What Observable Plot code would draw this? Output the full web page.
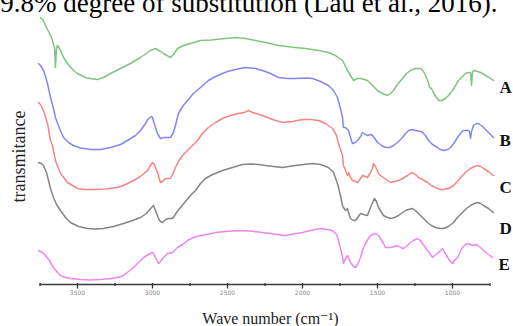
<!DOCTYPE html>
<html><head><meta charset="utf-8">
<script src="https://cdn.jsdelivr.net/npm/d3@7"></script>
<script src="https://cdn.jsdelivr.net/npm/@observablehq/plot@0.6"></script>
<style>
html,body{margin:0;padding:0;background:#fff;}
#chart{width:513px;height:326px;overflow:hidden;position:relative;}
</style></head><body><div id="chart"></div>
<script>
const seriesNames = ["A","B","C","D","E"];
// [wavenumber (cm-1), transmittance (arbitrary, offset)]
const seriesA = [[3747,283],[3727,280],[3707,273],[3693,269],[3673,263],[3660,256],[3653,253],[3647,233],[3640,252],[3633,255],[3613,250],[3593,243],[3567,237],[3527,230],[3500,227],[3447,223],[3413,222],[3367,221],[3327,223],[3280,227],[3213,232],[3147,237],[3080,243],[3013,250],[2980,252],[2947,249],[2927,247],[2880,243],[2860,246],[2833,252],[2793,255],[2747,257],[2680,260],[2613,260.5],[2513,262],[2447,263],[2380,262],[2313,260],[2247,258],[2160,255],[2080,253.5],[1980,252],[1893,250],[1827,248],[1780,245],[1733,240],[1700,230],[1680,225],[1660,220],[1633,222],[1613,222],[1587,221],[1567,220],[1533,215],[1500,210],[1467,207],[1433,205],[1413,207],[1393,210],[1367,216],[1333,222],[1307,227],[1280,230],[1247,232],[1213,232],[1193,229],[1180,225],[1160,218],[1153,213],[1140,212],[1127,208],[1107,203],[1093,200],[1073,200],[1047,202],[1027,205],[1000,210],[980,215],[960,220],[933,224],[913,227],[893,228],[880,228],[873,215],[867,228],[860,230],[833,229],[813,228],[767,224],[727,220]];
const seriesB = [[3760,237],[3747,235],[3727,230],[3713,224],[3700,217],[3680,203],[3660,192],[3647,183],[3620,172],[3593,163],[3560,158],[3527,155],[3480,152.5],[3413,151],[3347,151],[3280,153],[3213,156],[3167,160],[3113,165],[3080,170],[3047,177],[3027,182],[3007,184],[3000,183],[2980,173],[2967,167],[2947,162],[2927,163],[2913,163],[2893,163],[2880,163],[2860,168],[2847,175],[2827,187],[2800,194],[2767,200],[2727,207],[2680,213],[2627,220],[2580,224],[2533,227],[2500,229],[2447,231],[2380,233],[2313,232],[2267,230],[2213,227],[2160,223],[2100,222],[2047,222],[1980,222.5],[1933,222],[1880,219],[1827,215],[1793,210],[1767,203],[1747,192],[1733,183],[1727,173],[1713,173],[1693,170],[1680,163],[1667,157],[1647,158],[1633,160],[1613,164],[1600,168],[1580,166],[1567,165],[1547,166],[1533,165],[1513,161],[1500,158],[1473,155],[1447,153],[1420,153],[1393,155],[1367,158],[1333,163],[1313,167],[1293,170],[1267,171],[1247,170],[1213,169],[1200,168],[1180,165],[1160,160],[1133,156],[1100,153],[1080,151],[1060,150],[1033,151],[1013,153],[987,158],[967,163],[947,167],[927,170],[893,170],[887,169],[880,162],[873,169],[860,175],[840,177],[827,177],[807,175],[793,173],[760,168],[727,163]];
const seriesC = [[3760,198],[3747,196],[3733,192],[3720,187],[3700,177],[3680,160],[3667,155],[3647,140],[3627,132],[3613,127],[3587,122],[3567,118],[3533,115],[3500,112],[3447,111],[3393,111],[3313,111.5],[3233,113],[3180,116],[3127,120],[3080,124],[3033,130],[3013,135],[3000,138],[2987,136],[2967,128],[2947,118],[2933,119],[2913,122],[2893,122],[2880,122],[2860,128],[2847,133],[2827,139],[2800,145],[2773,149],[2747,153],[2700,160],[2667,167],[2627,173],[2580,178],[2533,182],[2480,185],[2427,187],[2387,188],[2360,190],[2333,188],[2267,185],[2200,181],[2133,178],[2067,179],[2000,181],[1947,181],[1893,180],[1847,177],[1800,172],[1773,165],[1760,157],[1733,145],[1727,135],[1713,130],[1700,125],[1693,128],[1680,123],[1667,120],[1647,119],[1633,118],[1613,122],[1600,125],[1580,124],[1567,123],[1547,128],[1533,132],[1527,137],[1513,134],[1493,127],[1480,125],[1460,123],[1433,120],[1413,118],[1387,119],[1360,120],[1333,122],[1300,125],[1280,127],[1267,128],[1247,126],[1227,123],[1200,121],[1167,118],[1140,115],[1113,113],[1080,111],[1060,111],[1027,112],[993,115],[967,119],[933,125],[907,129],[880,132],[853,134],[833,135],[813,134],[793,132],[760,129],[727,125]];
const seriesD = [[3760,138],[3740,137],[3727,135],[3707,128],[3693,120],[3680,112],[3660,103],[3640,96],[3613,90],[3580,83],[3547,78],[3493,74],[3433,72],[3380,71.5],[3327,72],[3260,74],[3193,77],[3133,80],[3080,83],[3040,87],[3013,92],[2993,95],[2980,90],[2960,82],[2947,79],[2933,78],[2913,81],[2893,82],[2873,82],[2860,83],[2840,88],[2813,93],[2780,99],[2747,105],[2713,110],[2680,117],[2647,122],[2600,126],[2533,130],[2467,133],[2400,136],[2347,136.5],[2293,136],[2247,135],[2193,134],[2133,133],[2093,134],[2047,135],[1993,136],[1933,137],[1880,136],[1827,133],[1793,128],[1767,117],[1747,105],[1733,95],[1727,93],[1713,90],[1700,92],[1693,88],[1680,82],[1660,80],[1647,80],[1627,84],[1613,87],[1593,86],[1567,85],[1547,93],[1533,98],[1520,102],[1507,99],[1493,93],[1473,88],[1460,85],[1433,83],[1413,82],[1387,83],[1360,85],[1333,88],[1313,90],[1293,91],[1267,92],[1247,90],[1227,87],[1200,83],[1167,78],[1140,75],[1113,73],[1080,72],[1060,72],[1027,74],[993,78],[967,83],[933,88],[907,92],[880,95],[853,97],[833,98],[813,97],[793,95],[760,92],[727,88]];
const seriesE = [[3760,50],[3733,48],[3713,45],[3687,40],[3660,33],[3633,28],[3613,25],[3580,23],[3547,22],[3480,21],[3413,20.5],[3347,21],[3280,22],[3233,23],[3193,25],[3160,29],[3127,33],[3093,38],[3060,43],[3027,46],[3000,48],[2987,46],[2980,43],[2967,39],[2960,37],[2947,39],[2933,42],[2913,45],[2900,47],[2880,47.5],[2867,48],[2847,51],[2833,53],[2800,56],[2767,60],[2727,63],[2680,65],[2633,66],[2580,68],[2513,69],[2427,70],[2347,69.5],[2267,68],[2193,66.5],[2113,65],[2060,66.5],[2000,68],[1947,70],[1880,72],[1840,71],[1800,70],[1773,66],[1760,60],[1747,52],[1733,44],[1727,37],[1713,42],[1700,45],[1680,38],[1660,34],[1647,33],[1633,36],[1613,43],[1600,50],[1580,57],[1560,62],[1547,65],[1527,66.5],[1513,67],[1493,65],[1480,62],[1460,57],[1447,53],[1427,53],[1413,53],[1387,54],[1367,55],[1347,53],[1327,52],[1300,55],[1280,58],[1260,60],[1233,62],[1213,60],[1200,57],[1180,53],[1167,50],[1147,46],[1133,43],[1120,45],[1100,47],[1080,50],[1067,52],[1053,48],[1033,43],[1013,39],[1000,37],[987,40],[967,43],[947,49],[933,53],[913,56],[900,57],[880,56],[867,55],[847,56],[833,55],[813,53],[793,50],[760,46],[733,43]];
const majorTicks = [3500, 3000, 2500, 2000, 1500, 1000];
const minorTicks = [3750, 3250, 2750, 2250, 1750, 1250, 750];
const xLabel = "Wave number (cm\u207B\u00B9)";
const yLabel = "transmitance";
const headText = "99.8% degree of substitution (Lau et al., 2016).";

const colors = ["#80c480", "#8585f5", "#f58585", "#858585", "#f085f0"];
const allSeries = [seriesA, seriesB, seriesC, seriesD, seriesE];
const rows = [];
allSeries.forEach((s, i) => s.forEach(([wn, t]) => rows.push({series: seriesNames[i], wn, t})));
const labelDy = [7, 3, 12, 16, 7];
const ends = allSeries.map((s, i) => ({name: seriesNames[i], wn: s[s.length - 1][0], t: s[s.length - 1][1]}));

const serif = "'Liberation Serif', 'DejaVu Serif', serif";
const chart = Plot.plot({
  width: 513, height: 326,
  marginLeft: 39.5, marginRight: 23.5, marginTop: 0, marginBottom: 42,
  style: {background: "#fff", overflow: "visible"},
  x: {domain: [3750, 750], axis: null},
  y: {domain: [16, 300], axis: null},
  color: {domain: seriesNames, range: colors},
  marks: [
    Plot.line(rows, {x: "wn", y: "t", z: "series", stroke: "series", strokeWidth: 1.5, strokeLinejoin: "round"}),
    Plot.ruleY([16], {x1: 3750, x2: 750, stroke: "#3a3a3a", strokeWidth: 1.5}),
    Plot.ruleX(majorTicks, {x: d => d, y1: 17, y2: 11.5, stroke: "#333", strokeWidth: 1.3}),
    Plot.ruleX(minorTicks, {x: d => d, y1: 17, y2: 14, stroke: "#333", strokeWidth: 1.3}),
    Plot.text(majorTicks, {x: d => d, y: 16, dy: 9, text: d => String(d), fontSize: 6, fill: "#888", fontFamily: "'DejaVu Sans', sans-serif"}),
    Plot.text(ends, {x: "wn", y: "t", dx: 6, text: "name", textAnchor: "start", fontWeight: "bold", fontSize: 17, fontFamily: serif, fill: "#111"}),
    Plot.text([xLabel], {frameAnchor: "bottom", lineAnchor: "middle", dx: 5.5, dy: 34, fontSize: 16, fontFamily: serif, fill: "#222"}),
    Plot.text([yLabel], {x: 3887, y: 144, rotate: -90, textAnchor: "middle", lineAnchor: "middle", fontSize: 18, fontFamily: serif, fill: "#222"}),
    Plot.text([headText], {frameAnchor: "top-right", textAnchor: "end", lineAnchor: "bottom", dx: 7.5, dy: 11, fontSize: 27, fontFamily: serif, fill: "#000"})
  ]
});
// shift series labels vertically (layout only)
chart.querySelectorAll("g[aria-label='text']")[1].querySelectorAll("text").forEach((el, i) => {
  const tr = el.getAttribute("transform") || "";
  el.setAttribute("transform", tr + ` translate(0,${labelDy[i]})`);
});
document.getElementById("chart").appendChild(chart);
</script></body></html>
